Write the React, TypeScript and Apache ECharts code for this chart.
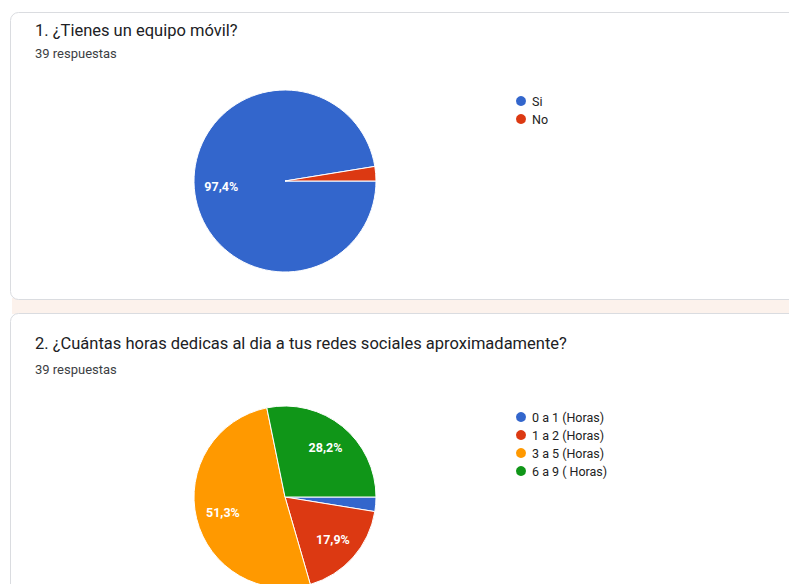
import React, { useEffect, useRef } from "react";
import * as echarts from "echarts";

const q1Title = "1. ¿Tienes un equipo móvil?";
const q2Title = "2. ¿Cuántas horas dedicas al dia a tus redes sociales aproximadamente?";
const responsesLabel = "39 respuestas";

const q1Names = ["Si", "No"];
const q1Values = [38, 1];
const q1Colors = ["#3366cc", "#dc3912"];

const q2Names = ["0 a 1 (Horas)", "1 a 2 (Horas)", "3 a 5 (Horas)", "6 a 9 ( Horas)"];
const q2Values = [1, 7, 20, 11];
const q2Colors = ["#3366cc", "#dc3912", "#ff9900", "#109618"];

const R = 91;

function pctLabel(p: any) {
  if (p.percent < 5) return "";
  return p.percent.toFixed(1).replace(".", ",") + "%";
}

function pieSeries(names: string[], values: number[], colors: string[], center: number[]) {
  const data = names.map((n, i) => ({ name: n, value: values[i], itemStyle: { color: colors[i] } }));
  const overlay = names.map((n, i) => ({ name: n, value: values[i] }));
  return [
    {
      type: "pie",
      center,
      radius: [0, R],
      startAngle: 0,
      clockwise: true,
      data,
      label: { show: false },
      labelLine: { show: false },
      itemStyle: { borderColor: "#ffffff", borderWidth: 1 },
      emphasis: { disabled: true },
      silent: true,
    },
    {
      type: "pie",
      center,
      radius: [R * 0.34, R],
      startAngle: 0,
      clockwise: true,
      data: overlay,
      itemStyle: { color: "rgba(0,0,0,0)" },
      label: {
        show: true,
        position: "inside",
        formatter: pctLabel,
        color: "#ffffff",
        fontSize: 12.5,
        fontWeight: "bold",
        fontFamily: "Roboto, Arial, sans-serif",
      },
      labelLine: { show: false },
      emphasis: { disabled: true },
      silent: true,
    },
  ];
}

export default function App() {
  const ref = useRef<HTMLDivElement>(null);
  useEffect(() => {
    if (!ref.current) return;
    const chart = echarts.init(ref.current, undefined, { renderer: "svg" });
    const font = "Roboto, Arial, sans-serif";
    const legendBase = {
      orient: "vertical",
      icon: "circle",
      itemWidth: 12,
      itemHeight: 12,
      itemGap: 4,
      textStyle: { fontSize: 12.5, color: "#222222", fontFamily: font, lineHeight: 14 },
      selectedMode: false,
    };
    chart.setOption({
      animation: false,
      backgroundColor: "#ffffff",
      graphic: [
        { type: "rect", shape: { x: 12, y: 298, width: 800, height: 16 }, style: { fill: "#fcf2ec" }, z: -10 },
        { type: "rect", shape: { x: 10.5, y: 12.5, width: 800, height: 287, r: 8 }, style: { fill: "#ffffff", stroke: "#dadce0", lineWidth: 1 }, z: -5 },
        { type: "rect", shape: { x: 10.5, y: 313.5, width: 800, height: 300, r: 8 }, style: { fill: "#ffffff", stroke: "#dadce0", lineWidth: 1 }, z: -5 },
        { type: "text", x: 35, y: 22, style: { text: q1Title, fontSize: 16.5, fill: "#202124", fontFamily: font } },
        { type: "text", x: 35, y: 47, style: { text: responsesLabel, fontSize: 13, fill: "#3c4043", fontFamily: font } },
        { type: "text", x: 35, y: 335, style: { text: q2Title, fontSize: 16.5, fill: "#202124", fontFamily: font } },
        { type: "text", x: 35, y: 363, style: { text: responsesLabel, fontSize: 13, fill: "#3c4043", fontFamily: font } },
      ],
      legend: [
        { ...legendBase, left: 509, top: 89, data: q1Names },
        { ...legendBase, left: 509, top: 405, data: q2Names },
      ],
      series: [
        ...pieSeries(q1Names, q1Values, q1Colors, [285, 181]),
        ...pieSeries(q2Names, q2Values, q2Colors, [285, 497]),
      ],
    });
    return () => chart.dispose();
  }, []);
  return (
    <div
      ref={ref}
      style={{ position: "absolute", left: 0, top: 0, width: 789, height: 584 }}
    />
  );
}
